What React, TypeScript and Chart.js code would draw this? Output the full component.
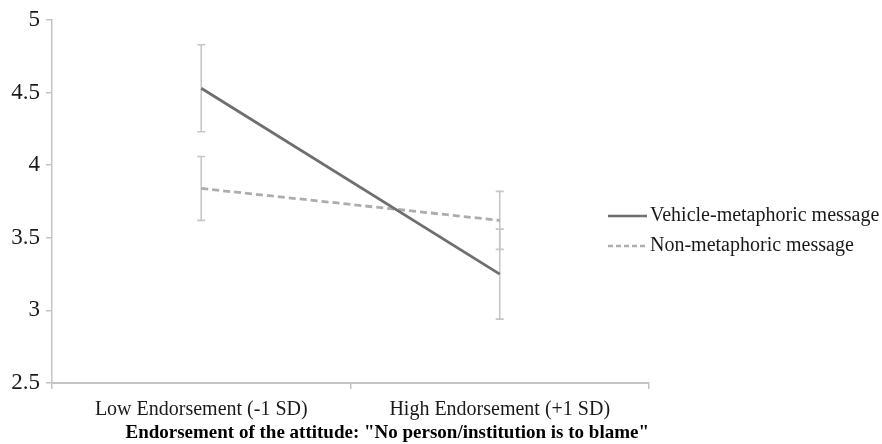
import React, { useEffect, useRef } from "react";
import { Chart, registerables } from "chart.js";

Chart.register(...registerables);

const categories = ["Low Endorsement (-1 SD)", "High Endorsement (+1 SD)"];
const seriesNames = ["Vehicle-metaphoric message", "Non-metaphoric message"];
const vehicleMeans = [4.53, 3.25];
const vehicleErrors = [0.3, 0.31];
const nonMeans = [3.84, 3.62];
const nonErrors = [0.22, 0.2];
const yTicks = [2.5, 3, 3.5, 4, 4.5, 5];
const xTitle = 'Endorsement of the attitude: "No person/institution is to blame"';

const SERIF = "'Liberation Serif', 'Times New Roman', serif";
const AXIS_COLOR = "#c4c4c4";
const ERR_COLOR = "#c6c6c6";
const VEHICLE_COLOR = "#6f6f70";
const NON_COLOR = "#adadaf";
const NON_DASH = [7, 4];

// Vertical error bars with caps, drawn under the lines
const errorBarsPlugin = {
  id: "errorBars",
  beforeDatasetsDraw(chart: any) {
    const ctx = chart.ctx;
    const x = chart.scales.x;
    const y = chart.scales.y;
    const sets = [
      { means: vehicleMeans, errs: vehicleErrors },
      { means: nonMeans, errs: nonErrors },
    ];
    ctx.save();
    ctx.strokeStyle = ERR_COLOR;
    ctx.lineWidth = 1.6;
    sets.forEach((s) => {
      s.means.forEach((m, i) => {
        const px = x.getPixelForValue(i);
        const top = y.getPixelForValue(m + s.errs[i]);
        const bot = y.getPixelForValue(m - s.errs[i]);
        ctx.beginPath();
        ctx.moveTo(px, top);
        ctx.lineTo(px, bot);
        ctx.moveTo(px - 4, top);
        ctx.lineTo(px + 4, top);
        ctx.moveTo(px - 4, bot);
        ctx.lineTo(px + 4, bot);
        ctx.stroke();
      });
    });
    ctx.restore();
  },
};

// Legend to the right of the plot: short line sample followed by the series name
const sideLegendPlugin = {
  id: "sideLegend",
  afterDraw(chart: any) {
    const ctx = chart.ctx;
    const area = chart.chartArea;
    const sampleStart = area.right - 41;
    const sampleEnd = area.right - 2;
    const textStart = area.right + 1;
    const rows = [
      { y: 216, color: VEHICLE_COLOR, dash: [] as number[] },
      { y: 246, color: NON_COLOR, dash: [5, 3] },
    ];
    ctx.save();
    rows.forEach((r, i) => {
      ctx.strokeStyle = r.color;
      ctx.lineWidth = 2.5;
      ctx.setLineDash(r.dash);
      ctx.beginPath();
      ctx.moveTo(sampleStart, r.y);
      ctx.lineTo(sampleEnd, r.y);
      ctx.stroke();
      ctx.setLineDash([]);
      ctx.fillStyle = "#1a1a1a";
      ctx.font = `20px ${SERIF}`;
      ctx.textBaseline = "middle";
      ctx.textAlign = "left";
      ctx.fillText(seriesNames[i], textStart, r.y);
    });
    ctx.restore();
  },
};

export default function App() {
  const canvasRef = useRef<HTMLCanvasElement | null>(null);

  useEffect(() => {
    if (!canvasRef.current) return;
    const chart = new Chart(canvasRef.current, {
      type: "line",
      data: {
        labels: categories,
        datasets: [
          {
            label: seriesNames[0],
            data: vehicleMeans,
            borderColor: VEHICLE_COLOR,
            borderWidth: 2.8,
            pointRadius: 0,
            fill: false,
            tension: 0,
          },
          {
            label: seriesNames[1],
            data: nonMeans,
            borderColor: NON_COLOR,
            borderWidth: 2.8,
            borderDash: NON_DASH,
            pointRadius: 0,
            fill: false,
            tension: 0,
          },
        ],
      },
      options: {
        responsive: true,
        maintainAspectRatio: false,
        animation: false,
        layout: { padding: { top: 20, right: 233, left: 0, bottom: 0 } },
        plugins: {
          legend: { display: false },
          tooltip: { enabled: false },
        },
        scales: {
          x: {
            type: "category",
            offset: true,
            grid: {
              offset: true,
              drawOnChartArea: false,
              color: AXIS_COLOR,
              tickLength: 6,
              lineWidth: 1.5,
            },
            border: { color: AXIS_COLOR, width: 2 },
            ticks: {
              color: "#1a1a1a",
              font: { family: SERIF, size: 20 },
              padding: 9,
              maxRotation: 0,
            },
            title: {
              display: true,
              text: xTitle,
              align: "end",
              color: "#000",
              font: { family: SERIF, size: 19, weight: "bold" },
              padding: { top: 0, bottom: 0 },
            },
            afterFit(scale: any) {
              scale.height = 61;
            },
          },
          y: {
            min: 2.5,
            max: 5,
            afterBuildTicks(scale: any) {
              scale.ticks = yTicks.map((v) => ({ value: v }));
            },
            grid: {
              drawOnChartArea: false,
              color: AXIS_COLOR,
              tickLength: 6,
              lineWidth: 1.5,
            },
            border: { color: AXIS_COLOR, width: 1.5 },
            ticks: {
              color: "#1a1a1a",
              font: { family: SERIF, size: 23 },
              padding: 6,
              callback: (v: any) => String(v),
            },
            afterFit(scale: any) {
              scale.width = 52;
            },
          },
        },
      },
      plugins: [errorBarsPlugin, sideLegendPlugin],
    } as any);
    return () => chart.destroy();
  }, []);

  return (
    <div style={{ position: "absolute", left: 0, top: 0, width: 882, height: 444, background: "#fff" }}>
      <canvas ref={canvasRef} />
    </div>
  );
}
